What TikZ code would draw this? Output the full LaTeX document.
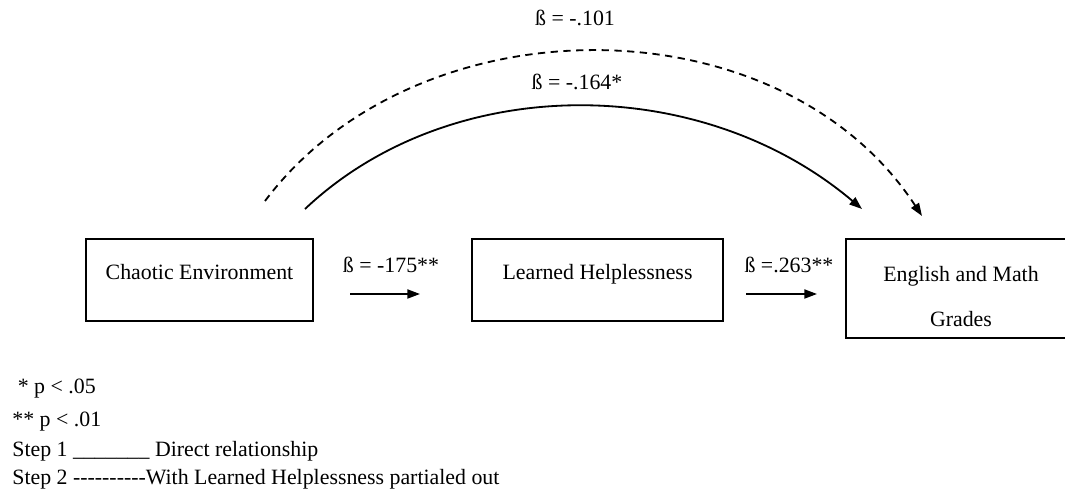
\documentclass[tikz,border=0pt]{standalone}
\usepackage{fontspec}
\setmainfont{Liberation Serif}
\usetikzlibrary{arrows.meta}

\begin{document}
\begin{tikzpicture}[x=0.549pt,y=-0.549pt,font=\fontsize{12}{14.4}\selectfont,
  box/.style={draw=cline,line width=1.1pt,minimum height=45pt,inner sep=0pt},
  lbl/.style={inner sep=0pt,text=clbl},
  leg/.style={anchor=base west,inner sep=0pt,text=clbl},
  straightarr/.style={line width=1pt,draw=cline,-{Triangle[length=7pt,width=5pt]}},
  curvearr/.style={line width=1pt,draw=cline,-{Triangle[length=7pt,width=5pt]}},
  dasharr/.style={curvearr,dash pattern=on 4pt off 3pt}]
\definecolor{cline}{rgb}{0.0,0.0,0.0}
\definecolor{clbl}{rgb}{0.0,0.0,0.0}
\useasboundingbox (0,0) rectangle (1065,496);
%
\node[box,minimum width=124.6pt,text height=8pt,text depth=8pt] (v0) at (199.5,280) {Chaotic Environment};
\node[box,minimum width=137.8pt,text height=8pt,text depth=8pt] (v1) at (597.5,280) {Learned Helplessness};
\node[box,minimum width=126.3pt,minimum height=54.4pt,align=center] (v2) at (961,288.5) {\rule{0pt}{17pt}English and Math\\[10pt]Grades};
%
\node[lbl] (b01) at (391,265) {ß = -175**};
\node[lbl] (b12) at (789,265) {ß =.263**};
\node[lbl] (b02s) at (577,82) {ß = -.164*};
\node[lbl] (b02d) at (575,18) {ß = -.101};
%
\coordinate (a0) at (350,294);
\coordinate (a1) at (420,294);
\coordinate (a2) at (746,294);
\coordinate (a3) at (817,294);
\coordinate (s0) at (305,209);
\coordinate (s1) at (862,209);
\coordinate (d0) at (265,201);
\coordinate (d1) at (922,216);
%
\draw[straightarr] (a0) -- (a1);
\draw[straightarr] (a2) -- (a3);
\draw[curvearr] (s0) .. controls (450,72) and (700,72) .. (s1);
\draw[dasharr] (d0) .. controls (417,-1) and (780,-1) .. (d1);
%
\node[leg] (n0) at (12,394) {\ * p < .05};
\node[leg] (n1) at (12,427) {** p < .01};
\node[leg] (n2) at (12,457) {Step 1\ \_\_\_\_\_\_\_ Direct relationship};
\node[leg] (n3) at (12,485) {Step 2\ -\kern0pt-\kern0pt-\kern0pt-\kern0pt-\kern0pt-\kern0pt-\kern0pt-\kern0pt-\kern0pt-With Learned Helplessness partialed out};
%
\end{tikzpicture}
\end{document}
